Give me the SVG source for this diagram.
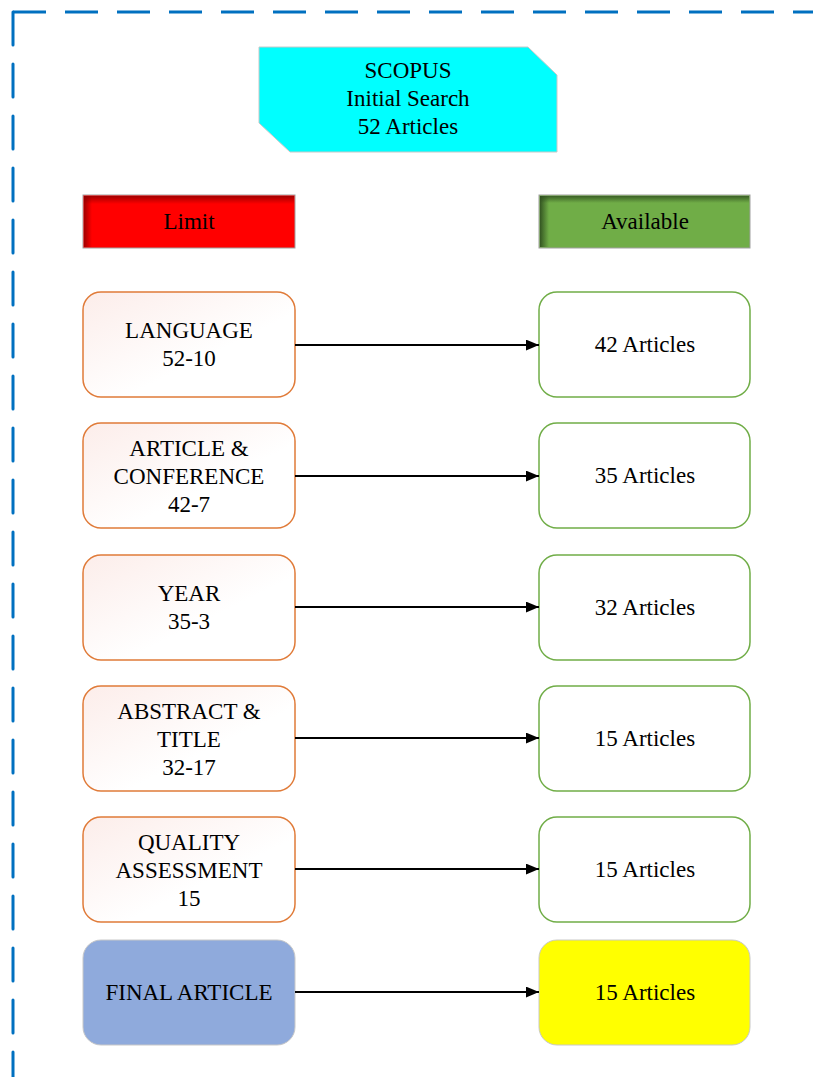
<svg xmlns="http://www.w3.org/2000/svg" width="813" height="1077" viewBox="0 0 813 1077">
<defs>
<linearGradient id="pinkg" x1="0" y1="0" x2="1" y2="1">
<stop offset="0" stop-color="#FCEDEA"/>
<stop offset="0.6" stop-color="#FFFFFF"/>
</linearGradient>
<linearGradient id="redshT" x1="0" y1="0" x2="0" y2="1">
<stop offset="0" stop-color="#8B0000" stop-opacity="0.8"/>
<stop offset="1" stop-color="#8B0000" stop-opacity="0"/>
</linearGradient>
<linearGradient id="redshL" x1="0" y1="0" x2="1" y2="0">
<stop offset="0" stop-color="#8B0000" stop-opacity="0.8"/>
<stop offset="1" stop-color="#8B0000" stop-opacity="0"/>
</linearGradient>
<linearGradient id="grnshT" x1="0" y1="0" x2="0" y2="1">
<stop offset="0" stop-color="#2E4D1E" stop-opacity="0.8"/>
<stop offset="1" stop-color="#2E4D1E" stop-opacity="0"/>
</linearGradient>
<linearGradient id="grnshL" x1="0" y1="0" x2="1" y2="0">
<stop offset="0" stop-color="#2E4D1E" stop-opacity="0.9"/>
<stop offset="1" stop-color="#2E4D1E" stop-opacity="0"/>
</linearGradient>
<marker id="arr" viewBox="0 0 12 10" refX="12" refY="5" markerWidth="13" markerHeight="11" markerUnits="userSpaceOnUse" orient="auto">
<path d="M0,0 L12,5 L0,10 Z" fill="#000"/>
</marker>
</defs>
<style>
text{font-family:"Liberation Serif","Times New Roman",Times,serif;font-size:23px;fill:#000;text-anchor:middle}
.lim{fill:url(#pinkg);stroke:#E07B39;stroke-width:1.5}
.av{fill:#fff;stroke:#70AD47;stroke-width:1.5}
.conn line{stroke:#000;stroke-width:2.2;marker-end:url(#arr)}
.border{stroke:#0070C0;stroke-width:3;fill:none;stroke-dasharray:33 19}
</style>
<rect width="813" height="1077" fill="#fff"/>
<g id="border">
<line class="border" x1="13" y1="12" x2="813" y2="12"/>
<line class="border" x1="13" y1="12" x2="13" y2="1077" stroke-linecap="round" stroke-dasharray="31 21"/>
</g>
<g id="scopus">
<path d="M259,47 L528,47 L557,75 L557,152 L290,152 L259,123 Z" fill="#00FFFF" stroke="#C8C8C8" stroke-width="1"/>
<text x="408" y="78">SCOPUS</text>
<text x="408" y="106">Initial Search</text>
<text x="408" y="134">52 Articles</text>
</g>
<g id="limit">
<rect x="83" y="195" width="212" height="53" fill="#FF0000" stroke="#A0A0A0" stroke-width="1"/>
<rect x="84" y="196" width="210" height="8" fill="url(#redshT)"/>
<rect x="84" y="196" width="8" height="51" fill="url(#redshL)"/>
<text x="189" y="229">Limit</text>
</g>
<g id="available">
<rect x="539" y="195" width="211" height="53" fill="#70AD47" stroke="#A0A0A0" stroke-width="1"/>
<rect x="540" y="196" width="209" height="7" fill="url(#grnshT)"/>
<rect x="540" y="196" width="9" height="51" fill="url(#grnshL)"/>
<text x="645" y="229">Available</text>
</g>
<g id="language">
<rect class="lim" x="83" y="292" width="212" height="105" rx="18"/>
<text x="189" y="338">LANGUAGE</text>
<text x="189" y="366">52-10</text>
</g>
<g id="avail1">
<rect class="av" x="539" y="292" width="211" height="105" rx="18"/>
<text x="645" y="352">42 Articles</text>
</g>
<g id="article">
<rect class="lim" x="83" y="423" width="212" height="105" rx="18"/>
<text x="189" y="456">ARTICLE &amp;</text>
<text x="189" y="484">CONFERENCE</text>
<text x="189" y="512">42-7</text>
</g>
<g id="avail2">
<rect class="av" x="539" y="423" width="211" height="105" rx="18"/>
<text x="645" y="483">35 Articles</text>
</g>
<g id="year">
<rect class="lim" x="83" y="555" width="212" height="105" rx="18"/>
<text x="189" y="601">YEAR</text>
<text x="189" y="629">35-3</text>
</g>
<g id="avail3">
<rect class="av" x="539" y="555" width="211" height="105" rx="18"/>
<text x="645" y="615">32 Articles</text>
</g>
<g id="abstract">
<rect class="lim" x="83" y="686" width="212" height="105" rx="18"/>
<text x="189" y="719">ABSTRACT &amp;</text>
<text x="189" y="747">TITLE</text>
<text x="189" y="775">32-17</text>
</g>
<g id="avail4">
<rect class="av" x="539" y="686" width="211" height="105" rx="18"/>
<text x="645" y="746">15 Articles</text>
</g>
<g id="quality">
<rect class="lim" x="83" y="817" width="212" height="105" rx="18"/>
<text x="189" y="850">QUALITY</text>
<text x="189" y="878">ASSESSMENT</text>
<text x="189" y="906">15</text>
</g>
<g id="avail5">
<rect class="av" x="539" y="817" width="211" height="105" rx="18"/>
<text x="645" y="877">15 Articles</text>
</g>
<g id="final">
<rect x="83" y="940" width="212" height="105" rx="18" fill="#8FAADC" stroke="#C8C8C8" stroke-width="1"/>
<text x="189" y="1000">FINAL ARTICLE</text>
</g>
<g id="avail6">
<rect x="539" y="940" width="211" height="105" rx="18" fill="#FFFF00" stroke="#C8C8C8" stroke-width="1"/>
<text x="645" y="1000">15 Articles</text>
</g>
<g id="connectors" class="conn">
<line x1="295" y1="345" x2="539" y2="345"/>
<line x1="295" y1="476" x2="539" y2="476"/>
<line x1="295" y1="607" x2="539" y2="607"/>
<line x1="295" y1="738" x2="539" y2="738"/>
<line x1="295" y1="869" x2="539" y2="869"/>
<line x1="295" y1="992" x2="539" y2="992"/>
</g>
</svg>
